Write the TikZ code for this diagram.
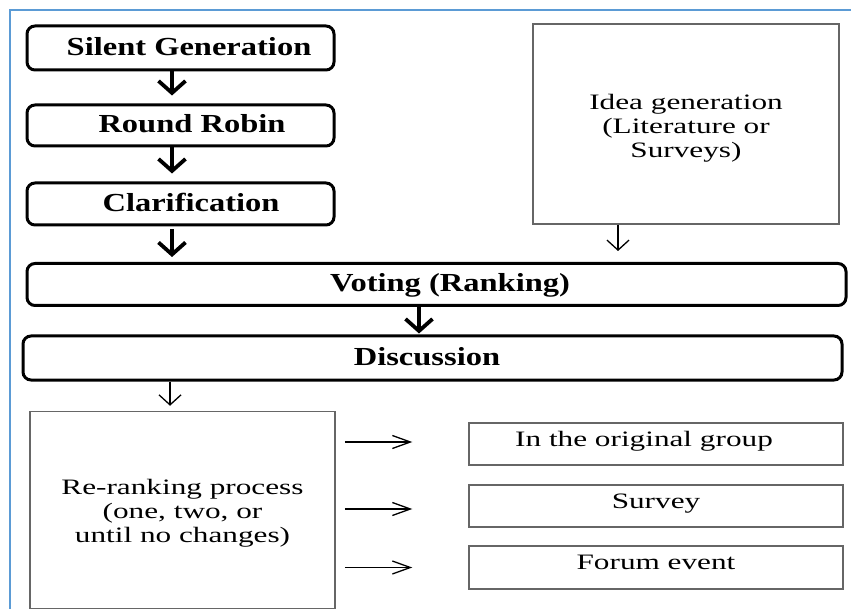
\documentclass[tikz,border=0pt]{standalone}
\usepackage{fontspec}
\setmainfont{Liberation Serif}[FakeStretch=1.42]
\newfontfamily\bfam{Liberation Serif}[FakeStretch=1.25]
\usetikzlibrary{arrows.meta}
\definecolor{frameblue}{HTML}{5B9BD5}
\begin{document}
\begin{tikzpicture}[x=1pt,y=-1pt,
 thickbox/.style={draw=black, line width=3pt, rounded corners=8pt, inner sep=0pt,
   font=\bfam\bfseries\fontsize{26}{28}\selectfont, text height=17pt, text depth=2pt},
 thinbox/.style={draw=black!60, line width=1.5pt, inner sep=0pt, align=center,
   font=\fontsize{22}{24}\selectfont},
 onebox/.style={thinbox, text height=15pt, text depth=11pt},
 bigarrow/.style={line width=3.5pt, -{Straight Barb[length=12pt,width=27pt,line width=3.8pt]}},
 vthin/.style={line width=1.3pt, -{Straight Barb[length=10pt,width=22pt,line width=1.3pt]}},
 hthin/.style={line width=1.3pt, -{Straight Barb[length=18pt,width=13pt,line width=1.3pt]}},
]
\useasboundingbox (0,0) rectangle (851,609);
\draw[frameblue, line width=2pt] (10,609) -- (10,10) -- (851,10);

% thick rounded boxes
\node[thickbox, minimum width=307pt, minimum height=44pt] (sg) at (180.5,48) {\hspace*{17pt}Silent Generation};
\node[thickbox, minimum width=307pt, minimum height=41pt] (rr) at (180.5,125.5) {\hspace*{23pt}Round Robin};
\node[thickbox, minimum width=307pt, minimum height=42pt] (cl) at (180.5,204) {\hspace*{21pt}Clarification};
\node[thickbox, minimum width=819pt, minimum height=42pt] (vo) at (436.5,284.5) {\hspace*{27pt}Voting (Ranking)};
\node[thickbox, minimum width=819pt, minimum height=44pt] (di) at (432.5,358) {Discussion\hspace*{11pt}};

% thin boxes
\node[thinbox, minimum width=306pt, minimum height=200pt] (idea) at (686,124) {\rule{0pt}{24pt}Idea generation\\(Literature or\\Surveys)};
\node[thinbox, minimum width=305pt, minimum height=197pt] (rerank) at (182.5,510) {\rule{0pt}{22pt}Re-ranking process\\(one, two, or\\until no changes)};
\node[onebox, minimum width=374pt, minimum height=42pt] (og) at (656,444) {In the original group\hspace*{24pt}};
\node[onebox, minimum width=374pt, minimum height=42pt] (sv) at (656,506) {Survey};
\node[onebox, minimum width=374pt, minimum height=43pt] (fe) at (656,567.5) {Forum event};

% thick arrows
\draw[bigarrow, shorten >=8pt] ([xshift=-8.5pt]sg.south) -- ([xshift=-8.5pt]rr.north);
\draw[bigarrow, shorten >=8pt] ([xshift=-8.5pt]rr.south) -- ([xshift=-8.5pt]cl.north);
\draw[bigarrow, shorten <=3pt, shorten >=5pt] ([xshift=-8.5pt]cl.south) -- ([xshift=-264.5pt]vo.north);
\draw[bigarrow, shorten >=1pt] ([xshift=-17.5pt]vo.south) -- ([xshift=-13.5pt]di.north);

% thin arrows
\draw[vthin, shorten >=11pt] ([xshift=-68pt]idea.south) -- ([xshift=181.5pt]vo.north);
\draw[vthin, shorten >=5pt] ([xshift=-262.5pt]di.south) -- ([xshift=-12.5pt]rerank.north);
\draw[hthin, shorten <=9pt, shorten >=56pt] ([yshift=2pt]rerank.east |- og.west) -- ([yshift=2pt]og.west);
\draw[hthin, shorten <=9pt, shorten >=56pt] ([yshift=-3pt]rerank.east |- sv.west) -- ([yshift=-3pt]sv.west);
\draw[hthin, shorten <=9pt, shorten >=56pt] (rerank.east |- fe.west) -- (fe.west);
\end{tikzpicture}
\end{document}
